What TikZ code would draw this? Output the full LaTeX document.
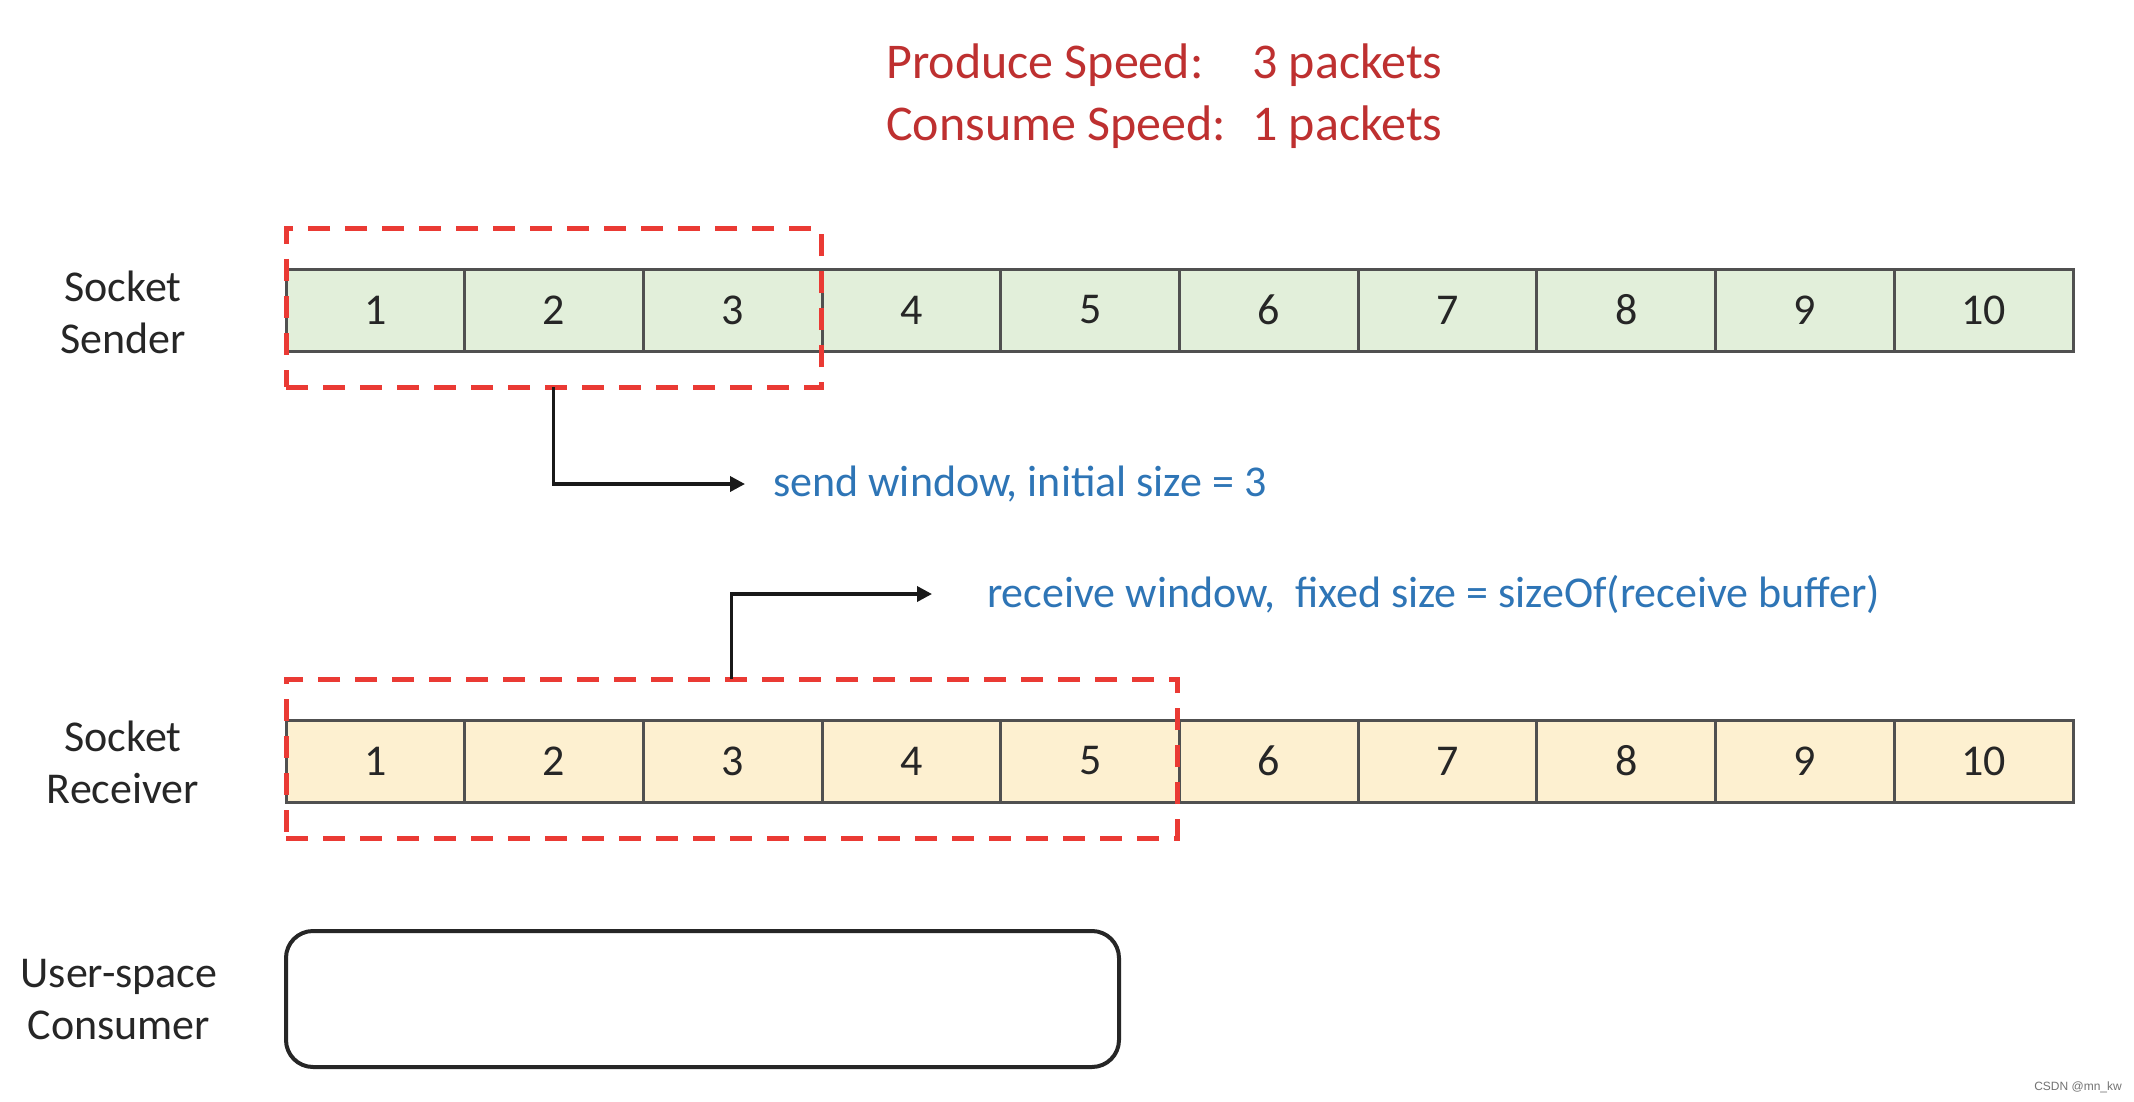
\documentclass[tikz,border=0pt]{standalone}
\usepackage{fontspec}
\setmainfont{Carlito}
\newfontfamily\wmfont{Liberation Sans}
\usetikzlibrary{arrows.meta}
\definecolor{hdrred}{RGB}{190,48,48}
\definecolor{lblblue}{RGB}{46,117,182}
\definecolor{winred}{RGB}{234,58,52}
\definecolor{sendfill}{RGB}{226,239,218}
\definecolor{recvfill}{RGB}{253,240,208}
\definecolor{cellline}{RGB}{80,80,80}
\begin{document}
\begin{tikzpicture}[x=1pt,y=-1pt,
  cell/.style={draw=cellline, line width=3pt, minimum width=178.7pt, minimum height=82pt,
    inner sep=0pt, outer sep=0pt, font=\fontsize{44}{52}\selectfont, text=black!85},
  winbox/.style={draw=winred, line width=5pt, dash pattern=on 22pt off 15pt, inner sep=0pt, outer sep=0pt},
  rowlbl/.style={align=center, font=\fontsize{44}{52}\selectfont, text=black!85},
  hdr/.style={anchor=west, inner sep=0pt, font=\fontsize{50}{60}\selectfont, text=hdrred},
  bluelbl/.style={anchor=west, inner sep=0pt, font=\fontsize{44}{52}\selectfont, text=lblblue},
  pointer/.style={draw=black!90, line width=3.5pt, -{Triangle[length=15pt,width=15pt]}},
  consbox/.style={draw=black!85, line width=4pt, rounded corners=27pt, inner sep=0pt, outer sep=0pt}]
\useasboundingbox[fill=white] (0,0) rectangle (2134,1102);

% header
\node[hdr] (p1) at (886,65) {Produce Speed:};
\node[hdr] (p2) at (1252,65) {3 packets};
\node[hdr] (c1) at (886,127) {Consume Speed:};
\node[hdr] (c2) at (1252,127) {1 packets};

% row labels
\node[rowlbl] (lsend) at (123,312) {Socket\\Sender};
\node[rowlbl] (lrecv) at (123,762) {Socket\\Receiver};
\node[rowlbl] (lcons) at (119,1000) {User-space\\Consumer};

% cells
\foreach \i in {1,...,10} {
  \node[cell, fill=sendfill] (s\i) at ({286+(\i-0.5)*178.7},310) {\i};
  \node[cell, fill=recvfill] (r\i) at ({286+(\i-0.5)*178.7},761) {\i};
}

% windows
\node[winbox, minimum width=535pt, minimum height=158pt] (swin) at (553.5,308) {};
\node[winbox, minimum width=891pt, minimum height=159pt] (rwin) at (731.5,758.5) {};

% labels
\node[bluelbl] (sendlbl) at (773,484) {send window, initial size = 3};
\node[bluelbl] (recvlbl) at (987,594) {receive window,\ \ fixed size = sizeOf(receive buffer)};

% pointers
\draw[pointer, shorten >=28pt] (swin.south) |- (sendlbl.west);
\draw[pointer, shorten >=55pt] (rwin.north) |- (recvlbl.west);

% consumer
\node[consbox, minimum width=833pt, minimum height=136pt] (cons) at (702.5,999) {};

% watermark
\node[anchor=east, inner sep=0pt, font=\wmfont\fontsize{12}{14}\selectfont, text=black!55] (wm) at (2122,1087) {CSDN @mn\_kw};
\end{tikzpicture}
\end{document}
